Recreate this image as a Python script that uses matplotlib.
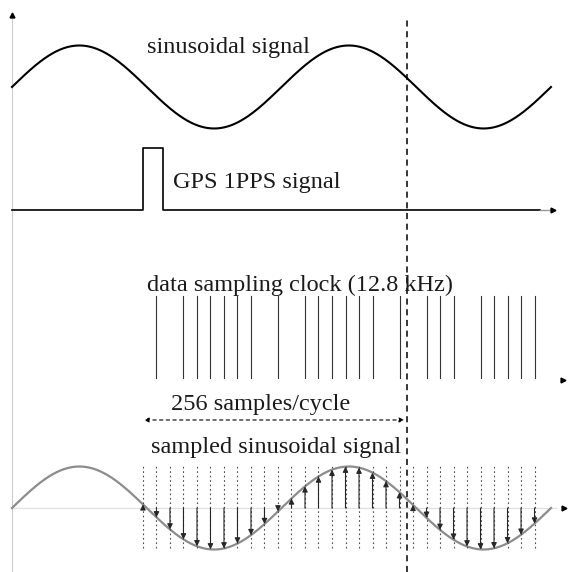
import numpy as np
import matplotlib
matplotlib.use("Agg")
import matplotlib.pyplot as plt

# signal / timing description (time in cycles of the sinusoid, amplitude = 1)
n_cycles = 2.0
pps_start, pps_width, pps_height = 0.486, 0.076, 1.5
sample_t0 = 0.486          # first sample (at the falling zero crossing)
sample_step = 0.0501       # one sample period
n_samples = 30
# clock edges that are drawn in the figure (sample indices)
clock_idx = [1, 3, 4, 5, 6, 7, 8, 10, 12, 13, 14, 15, 16, 17, 19, 21, 22, 23,
             25, 26, 27, 28, 29]
cycle_start, cycle_end = 0.49, 1.455
marker_t = 1.464

labels = ["sinusoidal signal", "GPS 1PPS signal", "data sampling clock (12.8 kHz)",
          "256 samples/cycle", "sampled sinusoidal signal"]

# vertical layout of the tracks (same units as amplitude)
y_sine = 11.687
y_gps = 8.723
y_clock = 4.627
y_span = 3.663
y_samp = 1.542

plt.rcParams['font.family'] = ['Liberation Serif', 'DejaVu Serif']

fig = plt.figure(figsize=(5.69, 5.72), dpi=100)
ax = fig.add_axes([0, 0, 1, 1])
ax.set_xlim(-0.0445, 2.0668)
ax.set_ylim(0, 13.783)
ax.axis('off')

t = np.linspace(0, n_cycles, 800)
s = np.sin(2 * np.pi * t)

# left vertical axis
ax.plot([0, 0], [0, 13.35], color='0.8', lw=0.8)
ax.plot(0, 13.42, marker='^', color='black', ms=3.5)

# top: sinusoidal signal
ax.plot(t, y_sine + s, color='black', lw=1.5)
ax.text(0.501, 12.506, labels[0], fontsize=17.5, va='baseline', color='0.1')

# GPS 1PPS pulse
gx = [0, pps_start, pps_start, pps_start + pps_width, pps_start + pps_width, 1.96]
gy = [y_gps, y_gps, y_gps + pps_height, y_gps + pps_height, y_gps, y_gps]
ax.plot(gx, gy, color='black', lw=1.2)
ax.plot([1.96, 2.0], [y_gps, y_gps], color='0.6', lw=1.0)
ax.plot(2.007, y_gps, marker='>', color='black', ms=3.5)
ax.text(0.599, 9.253, labels[1], fontsize=17.5, va='baseline', color='0.1')

# data sampling clock
ts = sample_t0 + sample_step * np.arange(n_samples)
for i in clock_idx:
    ax.plot([ts[i], ts[i]], [y_clock + 0.05, y_clock + 2.02], color='0.2', lw=0.8)
ax.plot(2.045, y_clock, marker='>', color='black', ms=3.5)
ax.text(0.501, 6.778, labels[2], fontsize=17.5, va='baseline', color='0.1')

# 256 samples/cycle span
ax.annotate('', xy=(cycle_start, y_span), xytext=(cycle_end, y_span),
            arrowprops=dict(arrowstyle='<|-|>', linestyle=(0, (3, 3)), lw=0.8,
                            color='black', mutation_scale=7, shrinkA=0, shrinkB=0))
ax.text(0.5885, 3.904, labels[3], fontsize=17.5, va='baseline', color='0.1')

# sampled sinusoidal signal
ax.plot([0, 2.02], [y_samp, y_samp], color='0.88', lw=0.9)
ax.plot(2.048, y_samp, marker='>', color='black', ms=3.5)
ax.plot(t, y_samp + s, color='0.55', lw=1.6)
for tk in ts:
    ax.plot([tk, tk], [y_samp - 0.964, y_samp + 1.036], color='0.3', lw=0.8,
            linestyle=(0, (1.5, 2.5)))
    v = np.sin(2 * np.pi * tk)
    if abs(v) > 0.05:
        ax.annotate('', xy=(tk, y_samp + v), xytext=(tk, y_samp),
                    arrowprops=dict(arrowstyle='-|>', lw=0.8, color='0.15',
                                    mutation_scale=8, shrinkA=0, shrinkB=0))
ax.text(0.514, 2.867, labels[4], fontsize=17.5, va='baseline', color='0.1')

# dashed marker line
ax.plot([marker_t, marker_t], [0, 13.38], color='black', lw=1.1,
        linestyle=(0, (4, 3)))

fig.savefig('out.png', dpi=100)
